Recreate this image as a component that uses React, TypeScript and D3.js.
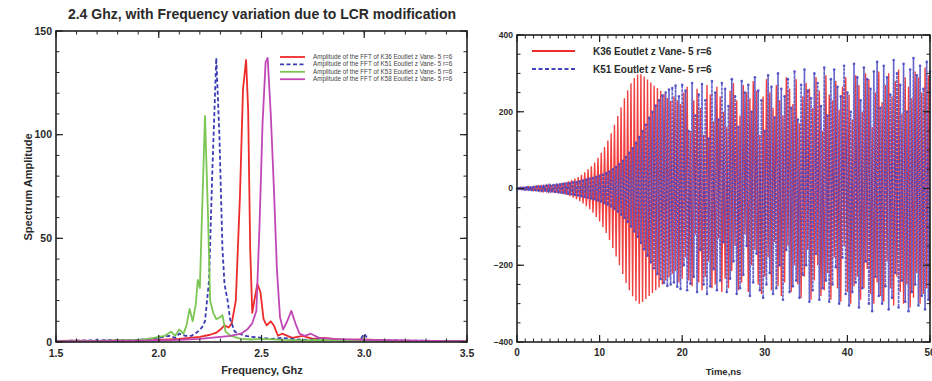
import React from 'react';
import * as d3 from 'd3';

const W = 932;
const H = 381;

// FFT spectra: [frequency GHz, amplitude]
const k36Spectrum: [number, number][] = [
  [1.5, 0.5], [1.6, 0.6], [1.7, 0.5], [1.8, 0.8], [1.9, 0.6], [2.0, 1.0], [2.05, 1.2], [2.1, 1.5],
  [2.15, 2.0], [2.2, 2.5], [2.25, 3.5], [2.28, 4.5], [2.3, 6], [2.32, 8], [2.34, 7], [2.355, 9],
  [2.375, 20], [2.395, 70], [2.41, 122], [2.425, 136], [2.435, 112], [2.445, 45], [2.455, 14],
  [2.465, 20], [2.48, 28], [2.495, 24], [2.51, 11], [2.525, 8], [2.545, 10], [2.56, 8], [2.58, 3],
  [2.6, 4], [2.65, 2], [2.7, 3], [2.75, 1.5], [2.8, 2], [2.9, 1], [3.0, 1.2], [3.1, 0.8],
  [3.2, 0.6], [3.3, 0.5], [3.4, 0.4], [3.5, 0.3],
];

const k51Spectrum: [number, number][] = [
  [1.5, 0.5], [1.7, 0.8], [1.9, 1], [2.0, 2], [2.05, 3], [2.08, 2], [2.1, 4], [2.13, 3],
  [2.16, 3], [2.19, 5], [2.21, 7], [2.225, 10], [2.245, 30], [2.26, 80], [2.28, 137],
  [2.295, 100], [2.31, 45], [2.32, 28], [2.335, 20], [2.347, 11], [2.37, 5], [2.39, 4],
  [2.42, 3], [2.45, 2.5], [2.5, 2], [2.55, 1.5], [2.6, 2], [2.7, 1], [2.8, 1.5], [2.9, 0.8],
  [2.98, 1], [3.0, 4], [3.02, 1], [3.1, 0.8], [3.3, 0.6], [3.5, 0.4],
];

const k53Spectrum: [number, number][] = [
  [1.5, 0.3], [1.7, 0.5], [1.8, 0.8], [1.9, 1], [1.95, 1.5], [2.0, 2.5], [2.03, 3], [2.06, 5],
  [2.08, 3], [2.1, 6], [2.12, 4], [2.135, 8], [2.15, 16], [2.165, 10], [2.18, 18], [2.19, 30],
  [2.2, 26], [2.21, 60], [2.225, 109], [2.24, 60], [2.25, 20], [2.265, 14], [2.28, 11],
  [2.3, 12], [2.31, 13], [2.325, 5], [2.35, 3], [2.4, 1.5], [2.45, 1.2], [2.5, 1.5], [2.6, 1],
  [2.7, 0.8], [2.8, 1], [3.0, 0.6], [3.2, 0.5], [3.5, 0.4],
];

const k58Spectrum: [number, number][] = [
  [1.5, 0.3], [1.8, 0.5], [2.0, 0.8], [2.1, 1], [2.2, 1.5], [2.3, 2.5], [2.35, 3], [2.4, 4],
  [2.43, 6], [2.455, 9], [2.475, 15], [2.49, 55], [2.505, 105], [2.52, 135], [2.53, 137],
  [2.545, 110], [2.56, 75], [2.575, 35], [2.59, 12], [2.605, 6], [2.625, 10], [2.645, 15],
  [2.665, 9], [2.685, 4], [2.71, 3], [2.74, 4], [2.78, 2], [2.85, 1.5], [3.0, 1], [3.2, 0.6],
  [3.5, 0.4],
];

const spectrumLabels = [
  'Amplitude of the FFT of K36 Eoutlet z Vane- 5 r=6',
  'Amplitude of the FFT of K51 Eoutlet z Vane- 5 r=6',
  'Amplitude of the FFT of K53 Eoutlet z Vane- 5 r=6',
  'Amplitude of the FFT of K58 Eoutlet z Vane- 5 r=6',
];

// Time signals, one sample every 0.2 ns from 0 to 50 ns
const timeStepNs = 0.2;

const k36Signal = [
  0, 2, -2, 3, -3, 3, -3, 4, -4, 4,
  -5, 5, -5, 6, -6, 6, -7, 7, -7, 8,
  -8, 9, -10, 11, -11, 12, -13, 14, -15, 16,
  -17, 19, -20, 22, -24, 26, -28, 30, -33, 36,
  -39, 42, -46, 50, -54, 58, -63, 68, -74, 80,
  -86, 93, -100, 108, -116, 125, -134, 144, -155, 166,
  -177, 189, -200, 212, -223, 235, -246, 256, -265, 274,
  -281, 288, -293, 297, -300, 298, -296, 292, -288, 284,
  -280, 276, -272, 268, -265, 262, -258, 255, -250, 246,
  -240, 236, -232, 228, -222, 240, -215, 230, -245, 220,
  -235, 250, -180, 265, -240, 150, -255, 230, -120, 260,
  -245, 210, -265, 140, -230, 270, -190, 245, -260, 175,
  -250, 265, -130, 240, -270, 200, -235, 160, -260, 255,
  -215, 275, -150, 230, -265, 190, -245, 270, -120, 250,
  -270, 235, -200, 280, -160, 255, -250, 140, -275, 240,
  -230, 285, -180, 250, -265, 210, -140, 270, -255, 230,
  -280, 190, -245, 290, -150, 260, -270, 220, -200, 285,
  -250, 170, -285, 240, -230, 275, -160, 260, -290, 210,
  -240, 290, -200, 255, -280, 150, -265, 295, -220, 245,
  -290, 230, -180, 280, -260, 205, -295, 265, -150, 290,
  -270, 245, -300, 180, -255, 295, -230, 270, -290, 200,
  -260, 300, -210, 285, -275, 160, -300, 250, -245, 305,
  -280, 225, -295, 270, -190, 300, -260, 240, -305, 280,
  -230, 310, -270, 195, -300, 290, -250, 265, -310, 235,
  -285, 305, -220, 290, -300, 250, -275, 315, -260, 295,
  -300,
];

const k51Signal = [
  0, -1, 2, -2, 2, -3, 3, -3, 3, -4,
  4, -4, 5, -5, 5, -6, 6, -6, 7, -7,
  8, -8, 9, -9, 10, -10, 11, -11, 12, -12,
  13, -14, 14, -15, 16, -17, 17, -18, 19, -20,
  21, -22, 23, -24, 25, -26, 27, -28, 30, -31,
  33, -34, 36, -38, 40, -42, 44, -47, 50, -53,
  56, -60, 64, -68, 72, -77, 82, -87, 93, -99,
  105, -112, 119, -126, 134, -142, 150, -158, 166, -175,
  184, -192, 200, -208, 216, -223, 230, -236, 242, -246,
  250, -254, 258, -250, 262, -245, 268, -256, 240, -262,
  270, -200, 255, -265, 150, -248, 275, -230, 190, -270,
  245, -160, 272, -250, 230, -275, 130, -255, 280, -210,
  250, -265, 180, -240, 275, -140, 260, -270, 215, -235,
  285, -190, 240, -275, 160, -260, 280, -225, 250, -150,
  270, -280, 200, -245, 290, -170, 255, -265, 230, -285,
  150, -250, 295, -220, 265, -275, 185, -260, 300, -200,
  260, -290, 240, -160, 285, -270, 210, -255, 305, -240,
  180, -285, 270, -225, 310, -200, 255, -295, 235, -265,
  300, -170, 275, -290, 215, -260, 315, -240, 190, -295,
  285, -250, 310, -205, 265, -300, 240, -180, 320, -275,
  250, -305, 200, -270, 325, -245, 290, -310, 230, -260,
  315, -190, 285, -300, 260, -320, 305, -230, 330, -280,
  210, -300, 320, -255, 290, -315, 245, -285, 335, -220,
  300, -310, 270, -240, 325, -295, 200, -320, 310, -270,
  340, -250, 295, -305, 320, -280, 260, -315, 330, -290,
  305,
];

const signalLabels = ['K36 Eoutlet z Vane- 5 r=6', 'K51 Eoutlet z Vane- 5 r=6'];

const colors = {
  red: '#ee2b2b',
  blue: '#3b3bb5',
  signalBlue: '#4343bf',
  green: '#7cc653',
  magenta: '#c247b6',
  axis: '#222',
  text: '#2a2a2a',
};

const font = '"Liberation Sans", Arial, sans-serif';

interface FrameProps {
  x: d3.ScaleLinear<number, number>;
  y: d3.ScaleLinear<number, number>;
  xMajor: number[];
  xMinor: number[];
  yMajor: number[];
  yMinor: number[];
  xFmt: (v: number) => string;
  yFmt: (v: number) => string;
  xFont: number;
  yFont: number;
}

const Frame: React.FC<FrameProps> = ({ x, y, xMajor, xMinor, yMajor, yMinor, xFmt, yFmt, xFont, yFont }) => {
  const [x0, x1] = x.range();
  const [y0, y1] = y.range();
  const major = 7;
  const minor = 3.5;
  return (
    <g>
      {xMinor.map((v, i) => (
        <g key={'xm' + i} stroke={colors.axis} strokeWidth={1}>
          <line x1={x(v)} x2={x(v)} y1={y0} y2={y0 - minor} />
          <line x1={x(v)} x2={x(v)} y1={y1} y2={y1 + minor} />
        </g>
      ))}
      {xMajor.map((v, i) => (
        <g key={'xM' + i}>
          <line x1={x(v)} x2={x(v)} y1={y0} y2={y0 - major} stroke={colors.axis} strokeWidth={1.2} />
          <line x1={x(v)} x2={x(v)} y1={y1} y2={y1 + major} stroke={colors.axis} strokeWidth={1.2} />
          <text x={x(v)} y={y0 + xFont + 4} textAnchor="middle" fontSize={xFont} fontWeight="bold" fill={colors.text}>
            {xFmt(v)}
          </text>
        </g>
      ))}
      {yMinor.map((v, i) => (
        <g key={'ym' + i} stroke={colors.axis} strokeWidth={1}>
          <line x1={x0} x2={x0 + minor} y1={y(v)} y2={y(v)} />
          <line x1={x1} x2={x1 - minor} y1={y(v)} y2={y(v)} />
        </g>
      ))}
      {yMajor.map((v, i) => (
        <g key={'yM' + i}>
          <line x1={x0} x2={x0 + major} y1={y(v)} y2={y(v)} stroke={colors.axis} strokeWidth={1.2} />
          <line x1={x1} x2={x1 - major} y1={y(v)} y2={y(v)} stroke={colors.axis} strokeWidth={1.2} />
          <text x={x0 - 4} y={y(v) + yFont * 0.35} textAnchor="end" fontSize={yFont} fontWeight="bold" fill={colors.text}>
            {yFmt(v)}
          </text>
        </g>
      ))}
      <rect x={x0} y={y1} width={x1 - x0} height={y0 - y1} fill="none" stroke={colors.axis} strokeWidth={1.6} />
    </g>
  );
};

const App: React.FC = () => {
  // Left panel: spectra
  const fx = d3.scaleLinear().domain([1.5, 3.5]).range([56, 467]);
  const fy = d3.scaleLinear().domain([0, 150]).range([342, 31]);
  const spectrumLine = d3.line<[number, number]>().x(d => fx(d[0])).y(d => fy(d[1]));

  // Right panel: time signals
  const tx = d3.scaleLinear().domain([0, 50]).range([517, 930]);
  const ty = d3.scaleLinear().domain([-400, 400]).range([342, 35]);
  const signalLine = d3.line<number>().x((_, i) => tx(i * timeStepNs)).y(d => ty(d));

  const spectra = [
    { data: k36Spectrum, color: colors.red, dash: undefined },
    { data: k51Spectrum, color: colors.blue, dash: '4,2.5' },
    { data: k53Spectrum, color: colors.green, dash: undefined },
    { data: k58Spectrum, color: colors.magenta, dash: undefined },
  ];

  return (
    <div style={{ position: 'fixed', left: 0, top: 0, width: W, height: H, background: '#fff' }}>
      <svg width={W} height={H} style={{ fontFamily: font, display: 'block' }}>
        <rect width={W} height={H} fill="#fff" />

        {/* Left panel */}
        <text x={262} y={19} textAnchor="middle" fontSize={14} fontWeight="bold" fill={colors.text}>
          2.4 Ghz, with Frequency variation due to LCR modification
        </text>
        <g>
          {spectra.map((s, i) => (
            <path key={i} d={spectrumLine(s.data) || ''} fill="none" stroke={s.color}
              strokeWidth={1.8} strokeDasharray={s.dash} strokeLinejoin="round" />
          ))}
        </g>
        <Frame x={fx} y={fy}
          xMajor={[1.5, 2, 2.5, 3, 3.5]} xMinor={fx.ticks(20)}
          yMajor={[0, 50, 100, 150]} yMinor={fy.ticks(15)}
          xFmt={d3.format('.1f')} yFmt={d3.format('d')} xFont={10.5} yFont={10.5} />
        {spectrumLabels.map((label, i) => (
          <g key={i} transform={`translate(280,${57 + i * 7.4})`}>
            <line x1={0} x2={25} y1={0} y2={0} stroke={spectra[i].color} strokeWidth={1.8} strokeDasharray={spectra[i].dash} />
            <text x={33} y={2} fontSize={6.3} fill="#444">{label}</text>
          </g>
        ))}
        <text transform="translate(32,187) rotate(-90)" textAnchor="middle" fontSize={11} fontWeight="bold" fill={colors.text}>
          Spectrum Amplitude
        </text>
        <text x={262} y={374} textAnchor="middle" fontSize={11} fontWeight="bold" fill={colors.text}>
          Frequency, Ghz
        </text>

        {/* Right panel */}
        <path d={signalLine(k36Signal) || ''} fill="none" stroke={colors.red} strokeWidth={1.4} strokeOpacity={0.9} />
        <path d={signalLine(k51Signal) || ''} fill="none" stroke={colors.signalBlue} strokeWidth={1.6}
          strokeDasharray="3,1" strokeOpacity={0.82} />
        {k51Signal.map((v, i) => (
          <circle key={i} cx={tx(i * timeStepNs)} cy={ty(v)} r={1.3} fill={colors.signalBlue} opacity={0.85} />
        ))}
        <Frame x={tx} y={ty}
          xMajor={[0, 10, 20, 30, 40, 50]} xMinor={d3.range(0, 51, 1)}
          yMajor={[-400, -200, 0, 200, 400]} yMinor={d3.range(-400, 401, 50)}
          xFmt={d3.format('d')} yFmt={d3.format('d')} xFont={10} yFont={8.5} />
        <g transform="translate(532,51)">
          <line x1={0} x2={43} y1={0} y2={0} stroke={colors.red} strokeWidth={2} />
          <text x={61} y={3.5} fontSize={10} fontWeight="bold" fill={colors.text}>{signalLabels[0]}</text>
        </g>
        <g transform="translate(532,69)">
          <line x1={0} x2={43} y1={0} y2={0} stroke={colors.signalBlue} strokeWidth={2} strokeDasharray="4,2.5" />
          <text x={61} y={3.5} fontSize={10} fontWeight="bold" fill={colors.text}>{signalLabels[1]}</text>
        </g>
        <text x={tx(25)} y={375} textAnchor="middle" fontSize={9.5} fontWeight="bold" fill={colors.text}>
          Time,ns
        </text>
      </svg>
    </div>
  );
};

export default App;
